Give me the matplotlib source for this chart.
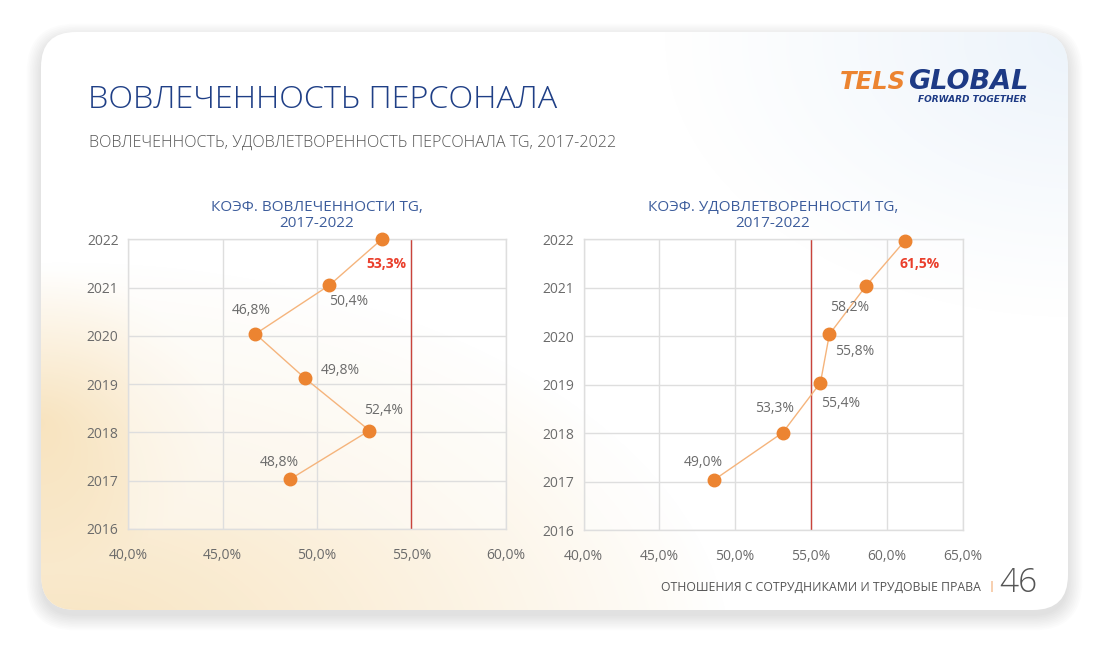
import numpy as np
import matplotlib
matplotlib.use("Agg")
import matplotlib.pyplot as plt
from matplotlib.patches import FancyBboxPatch

plt.rcParams['font.family'] = ['Open Sans', 'DejaVu Sans']

# --- data ---
years = [2017, 2018, 2019, 2020, 2021, 2022]
year_ticks = [2016, 2017, 2018, 2019, 2020, 2021, 2022]

# engagement (left chart): where the points sit, and what the labels say
eng_x = [48.57, 52.78, 49.37, 46.74, 50.66, 53.43]
eng_y = [2017.03, 2018.04, 2019.12, 2020.04, 2021.05, 2022.0]
eng_labels = ['48,8%', '52,4%', '49,8%', '46,8%', '50,4%', '53,3%']
eng_ticks = [40, 45, 50, 55, 60]

# satisfaction (right chart)
sat_x = [48.64, 53.14, 55.63, 56.22, 58.64, 61.2]
sat_y = [2017.04, 2018.01, 2019.04, 2020.04, 2021.04, 2021.97]
sat_labels = ['49,0%', '53,3%', '55,4%', '55,8%', '58,2%', '61,5%']
sat_ticks = [40, 45, 50, 55, 60, 65]

target = 55

# label offsets in pixels (layout only)
eng_offsets = [(-11, 17), (14, 20), (35, 8), (-4, 23), (19, -16), (5, -25)]
sat_offsets = [(-11, 17), (-8, 24), (20, -21), (25, -17), (-16, -22), (15, -23)]

W, H = 1108, 659
ORANGE = '#ec8431'
LINE = '#f5b47c'
RED_LINE = '#c9433b'
RED_TXT = '#ea3f2c'
GREY = '#6b6b6b'
GRID = '#dedede'
NAVY = '#1f3f86'
BLUE = '#3d5d9c'

fig = plt.figure(figsize=(W / 100, H / 100), dpi=100)
fig.patch.set_facecolor('white')

# background card with soft shadow and colour washes
bg = fig.add_axes([0, 0, 1, 1])
bg.set_xlim(0, W)
bg.set_ylim(H, 0)
bg.axis('off')
for i in range(10):
    grow = 1.6 * i
    sh = FancyBboxPatch((41 - grow, 38 - grow), 1027 + 2 * grow, 578 + 2 * grow,
                        boxstyle="round,pad=0,rounding_size=%d" % (35 + grow),
                        facecolor='#000000', edgecolor='none', alpha=0.011, zorder=1)
    bg.add_patch(sh)
card = FancyBboxPatch((41, 32), 1027, 578, boxstyle="round,pad=0,rounding_size=35",
                      facecolor='white', edgecolor='none', zorder=2)
bg.add_patch(card)

yy, xx = np.mgrid[0:H, 0:W]
img = np.ones((H, W, 4))
# warm wash bottom-left
d_warm = np.sqrt(((xx - 60) / 640.0) ** 2 + ((yy - 660) / 380.0) ** 2)
a_warm = np.clip(1.05 - d_warm, 0, 1) ** 0.9 * 0.85
d_warm2 = np.sqrt(((xx - 40) / 170.0) ** 2 + ((yy - 420) / 150.0) ** 2)
a_warm = np.clip(a_warm + np.clip(1.0 - d_warm2, 0, 1) * 0.5, 0, 0.9)
# blue wash top-right
d_blue = np.sqrt(((xx - 1080) / 420.0) ** 2 + ((yy - 40) / 280.0) ** 2)
a_blue = np.clip(1.0 - d_blue, 0, 1) ** 1.1 * 0.55
warm = np.array([0.97, 0.88, 0.72])
blue = np.array([0.87, 0.92, 0.97])
alpha = np.clip(a_warm + a_blue, 0, 1)
rgb = (warm * a_warm[..., None] + blue * a_blue[..., None]) / np.maximum(a_warm + a_blue, 1e-6)[..., None]
img[..., :3] = rgb
img[..., 3] = alpha
im = bg.imshow(img, extent=(0, W, H, 0), zorder=3, interpolation='bilinear')
im.set_clip_path(card)

# header texts
fig.text(88 / W, 1 - 100 / H, 'ВОВЛЕЧЕННОСТЬ ПЕРСОНАЛА', fontsize=23.3, color=NAVY,
         va='center', ha='left', fontweight='light')
fig.text(89 / W, 1 - 143 / H, 'ВОВЛЕЧЕННОСТЬ, УДОВЛЕТВОРЕННОСТЬ ПЕРСОНАЛА TG, 2017-2022',
         fontsize=11.6, color='#555555', va='center', ha='left', fontweight='light')

# logo
fig.text(840 / W, 1 - 82 / H, 'TELS', fontsize=17.5, color=ORANGE, fontweight='bold',
         fontstyle='italic', va='center', ha='left', family=['DejaVu Sans'])
fig.text(1028 / W, 1 - 82 / H, 'GLOBAL', fontsize=19.5, color='#1d3a85', fontweight='bold',
         fontstyle='italic', va='center', ha='right', family=['DejaVu Sans'])
fig.text(1026 / W, 1 - 99 / H, 'FORWARD TOGETHER', fontsize=6.5, color='#1d3a85',
         fontweight='bold', fontstyle='italic', va='center', ha='right', family=['DejaVu Sans'])

# footer
fig.text(981 / W, 1 - 587 / H, 'ОТНОШЕНИЯ С СОТРУДНИКАМИ И ТРУДОВЫЕ ПРАВА', fontsize=8.8,
         color='#555555', va='center', ha='right')
fig.text(991 / W, 1 - 587 / H, '|', fontsize=8, color=ORANGE, va='center', ha='center')
fig.text(999 / W, 1 - 583 / H, '46', fontsize=24, color='#555555', va='center', ha='left',
         fontweight='light')


def draw_panel(rect, xs, ys, labels, offsets, ticks, title):
    ax = fig.add_axes(rect)
    ax.set_facecolor((1, 1, 1, 0.45))
    ax.set_xlim(ticks[0], ticks[-1])
    ax.set_ylim(2016, 2022)
    ax.set_xticks(ticks)
    ax.set_xticklabels([('%.1f%%' % t).replace('.', ',') for t in ticks])
    ax.set_yticks(year_ticks)
    ax.grid(True, color=GRID, lw=1)
    ax.set_axisbelow(True)
    for s in ax.spines.values():
        s.set_color(GRID)
        s.set_linewidth(1)
    ax.tick_params(length=0, colors=GREY, labelsize=10)
    ax.tick_params(axis='x', pad=14)
    ax.tick_params(axis='y', pad=7)
    ax.axvline(target, color=RED_LINE, lw=1, zorder=2)
    ax.plot(xs, ys, color=LINE, lw=1, zorder=3, clip_on=False)
    ax.plot(xs, ys, 'o', color=ORANGE, ms=9, zorder=4, clip_on=False)
    for i, (x, y, lab) in enumerate(zip(xs, ys, labels)):
        last = i == len(xs) - 1
        ax.annotate(lab, (x, y), xytext=offsets[i], textcoords='offset pixels',
                    ha='center', va='center', fontsize=10,
                    color=RED_TXT if last else GREY,
                    fontweight='bold' if last else 'normal')
    ax.set_title(title, color=BLUE, fontsize=11, pad=9, linespacing=1.05)
    return ax


draw_panel([128.3 / W, 1 - 529 / H, 377.4 / W, 289.7 / H], eng_x, eng_y, eng_labels,
           eng_offsets, eng_ticks, 'КОЭФ. ВОВЛЕЧЕННОСТИ TG,\n2017-2022')
draw_panel([583.5 / W, 1 - 530 / H, 379 / W, 290.7 / H], sat_x, sat_y, sat_labels,
           sat_offsets, sat_ticks, 'КОЭФ. УДОВЛЕТВОРЕННОСТИ TG,\n2017-2022')

fig.savefig('out.png', dpi=100)
